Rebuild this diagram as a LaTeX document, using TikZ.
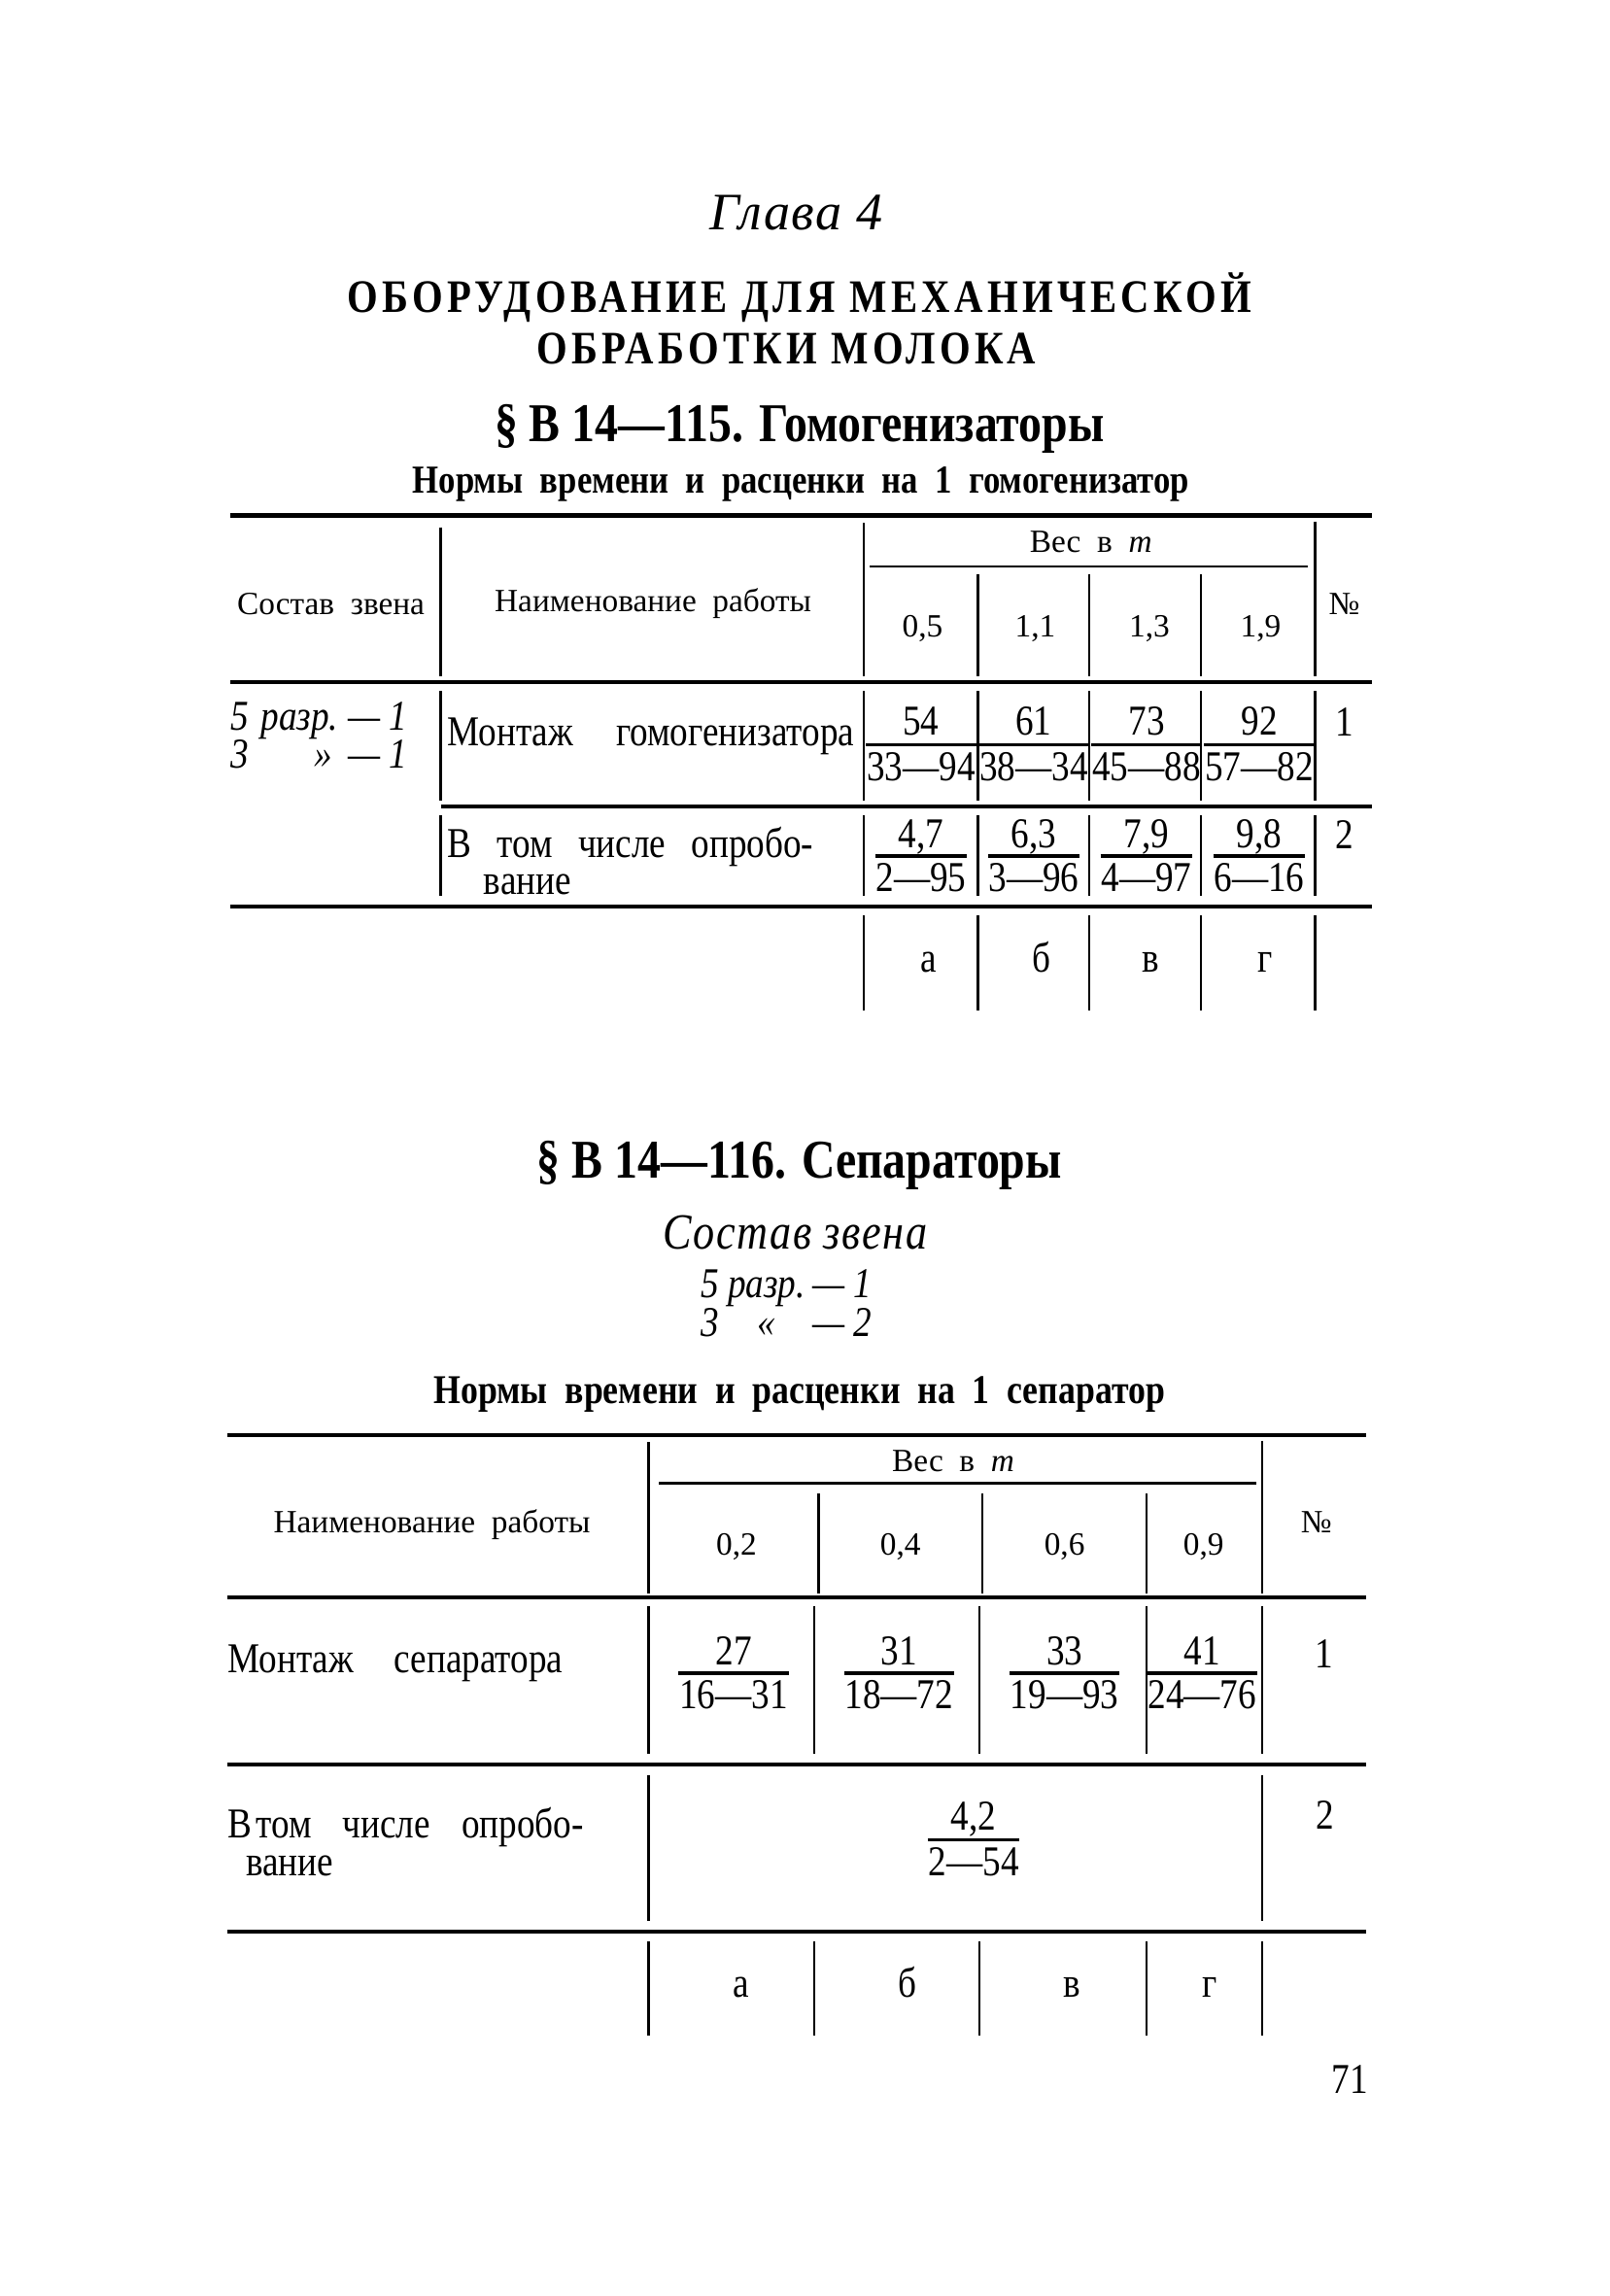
\documentclass[tikz,border=0pt]{standalone}
\usepackage{fontspec}
\setmainfont{Liberation Serif}
\newfontfamily\cnd[FakeStretch=0.85]{Liberation Serif}
\usetikzlibrary{positioning}

\begin{document}
\begin{tikzpicture}[x=0.3617pt,y=-0.3617pt,
  rule/.style={line width=1pt},
  vline/.style={line width=0.6pt},
  bar/.style={line width=0.8pt},
  hd/.style={font=\fontsize{8}{9}\selectfont, inner sep=0pt, text height=0.7em, text depth=0.2em},
  txt/.style={font=\cnd\fontsize{10.5}{12}\selectfont, inner sep=0pt, text height=0.7em, text depth=0.2em},
  den/.style={txt, inner ysep=1.6pt},
  row/.style={font=\cnd\fontsize{10.5}{9.2}\selectfont, inner sep=0pt, align=left, anchor=north west},
  zv/.style={font=\cnd\itshape\fontsize{10.5}{12}\selectfont, inner sep=0pt},
  ttl/.style={font=\cnd\bfseries\fontsize{13.5}{16}\selectfont, inner sep=0pt},
  sub/.style={font=\cnd\bfseries\fontsize{9.8}{11}\selectfont, inner sep=0pt}]
\useasboundingbox (0,0) rectangle (1099,1568);

% headings
\node[font=\itshape\fontsize{13}{15}\selectfont, inner sep=0pt] (chap) at (544,145) {\addfontfeatures{LetterSpace=3}Глава 4};
\node[font=\cnd\bfseries\fontsize{11.5}{14}\selectfont, inner sep=0pt] (head1) at (546,203) {\addfontfeatures{LetterSpace=9}ОБОРУДОВАНИЕ ДЛЯ МЕХАНИЧЕСКОЙ};
\node[font=\cnd\bfseries\fontsize{11.5}{14}\selectfont, inner sep=0pt] (head2) at (537,238) {\addfontfeatures{LetterSpace=9}ОБРАБОТКИ МОЛОКА};
\node[ttl] (sec1) at (546,293) {§ В 14—115. Гомогенизаторы};
\node[sub] (norm1) at (547,331) {Нормы\ \ времени\ \ и\ \ расценки\ \ на\ \ 1\ \ гомогенизатор};

% table 1, rules
\draw[rule] (157,352) -- (937,352);
\draw[rule] (157,466) -- (937,466);
\draw[rule] (301,551) -- (937,551);
\draw[rule] (157,619) -- (937,619);
\draw[vline] (594,387) -- (893,387);
\draw[vline] (301,360) -- (301,462);
\draw[vline] (590,357) -- (590,462);
\draw[vline] (898,356) -- (898,462);
\foreach \x in {668,744,820} \draw[vline] (\x,392) -- (\x,462);
\foreach \x in {301,590,668,744,820,898} {
  \draw[vline] (\x,472) -- (\x,547);
  \draw[vline] (\x,557) -- (\x,612);
}
\foreach \x in {590,668,744,820,898} \draw[vline] (\x,625) -- (\x,690);

% table 1, header
\node[hd] (t1sz) at (226,413) {Состав\ \ звена};
\node[hd] (t1nr) at (446,411) {Наименование\ \ работы};
\node[hd] (t1w) at (745,370) {Вес\ \ в\ \ \textit{т}};
\node[hd] (t1no) at (918,413) {№};
\foreach \x/\v [count=\i] in {630/{0,5},707/{1,1},785/{1,3},861/{1,9}}
  \node[hd] (t1h\i) at (\x,428) {\v};

% table 1, rows
\node[zv, anchor=west] (t1zv) at (157,505)
  {\begin{tabular}{@{}l@{\hspace{3pt}}r@{\hspace{2.5pt}}l@{}}5 & разр. & — 1\\[-2.5pt] 3 & »\hspace{1.5pt} & — 1\end{tabular}};
\node[row] (t1r1) at (305,490) {\makebox[100.5pt][s]{Монтаж гомогенизатора}};
\node[row] (t1r2) at (305,564) {\makebox[90.4pt][s]{В том числе опробо-}\\\hspace*{9pt}вание};
\node[txt] (t1k1) at (918,496) {1};
\node[txt] (t1k2) at (918,573) {2};
\foreach \x/\n/\d [count=\i] in {629/54/33—94,706/61/38—34,783/73/45—88,860/92/57—82} {
  \node[txt] (t1a\i) at (\x,495) {\n};
  \node[den] (t1b\i) at (\x,526) {\d};
  \draw[bar] (t1b\i.north west) -- (t1b\i.north east);
}
\foreach \x/\n/\d [count=\i] in {629/{4,7}/2—95,706/{6,3}/3—96,783/{7,9}/4—97,860/{9,8}/6—16} {
  \node[txt] (t1c\i) at (\x,572) {\n};
  \node[den] (t1e\i) at (\x,602) {\d};
  \draw[bar] (t1e\i.north west) -- (t1e\i.north east);
}
\foreach \x/\l [count=\i] in {634/а,711/б,786/в,864/г}
  \node[txt] (t1l\i) at (\x,657) {\l};

% section 2
\node[ttl] (sec2) at (546,796) {§ В 14—116. Сепараторы};
\node[font=\cnd\itshape\fontsize{12.5}{15}\selectfont, inner sep=0pt] (sost) at (543,842) {\addfontfeatures{LetterSpace=3}Состав звена};
\node[zv] (zv2) at (537,893)
  {\begin{tabular}{@{}l@{\ }c@{\,}l@{}}5 & разр. & — 1\\[-2.5pt] 3 & « & — 2\end{tabular}};
\node[sub, font=\cnd\bfseries\fontsize{10.1}{11}\selectfont] (norm2) at (546,952) {Нормы\ \ времени\ \ и\ \ расценки\ \ на\ \ 1\ \ сепаратор};

% table 2, rules
\draw[rule] (155,980) -- (933,980);
\draw[rule] (155,1091) -- (933,1091);
\draw[rule] (155,1205) -- (933,1205);
\draw[rule] (155,1319) -- (933,1319);
\draw[vline] (450,1013) -- (858,1013);
\draw[vline] (443,985) -- (443,1088);
\draw[vline] (862,984) -- (862,1088);
\foreach \x in {559,671,783} \draw[vline] (\x,1020) -- (\x,1088);
\foreach \x in {443,556,669,783,862} {
  \draw[vline] (\x,1097) -- (\x,1198);
  \draw[vline] (\x,1326) -- (\x,1390);
}
\foreach \x in {443,862} \draw[vline] (\x,1212) -- (\x,1312);

% table 2, header
\node[hd] (t2nr) at (295,1040) {Наименование\ \ работы};
\node[hd] (t2w) at (651,998) {Вес\ \ в\ \ \textit{т}};
\node[hd] (t2no) at (899,1040) {№};
\foreach \x/\v [count=\i] in {503/{0,2},615/{0,4},727/{0,6},822/{0,9}}
  \node[hd] (t2h\i) at (\x,1055) {\v};

% table 2, rows
\node[row] (t2r1) at (155,1123) {\makebox[82.8pt][s]{Монтаж сепаратора}};
\node[row] (t2r2) at (155,1234) {\makebox[87.9pt][s]{В\kern1pt том числе опробо-}\\\hspace*{4.5pt}вание};
\node[txt] (t2k1) at (904,1132) {1};
\node[txt] (t2k2) at (905,1242) {2};
\foreach \x/\n/\d [count=\i] in {501/27/16—31,614/31/18—72,727/33/19—93,821/41/24—76} {
  \node[txt] (t2a\i) at (\x,1130) {\n};
  \node[den] (t2b\i) at (\x,1160) {\d};
  \draw[bar] (t2b\i.north west) -- (t2b\i.north east);
}
\node[txt] (t2c) at (665,1243) {4,2};
\node[den] (t2e) at (665,1274) {2—54};
\draw[bar] (t2e.north west) -- (t2e.north east);
\foreach \x/\l [count=\i] in {506/а,620/б,732/в,826/г}
  \node[txt] (t2l\i) at (\x,1357) {\l};

\node[txt] (page) at (922,1423) {71};
\end{tikzpicture}
\end{document}
